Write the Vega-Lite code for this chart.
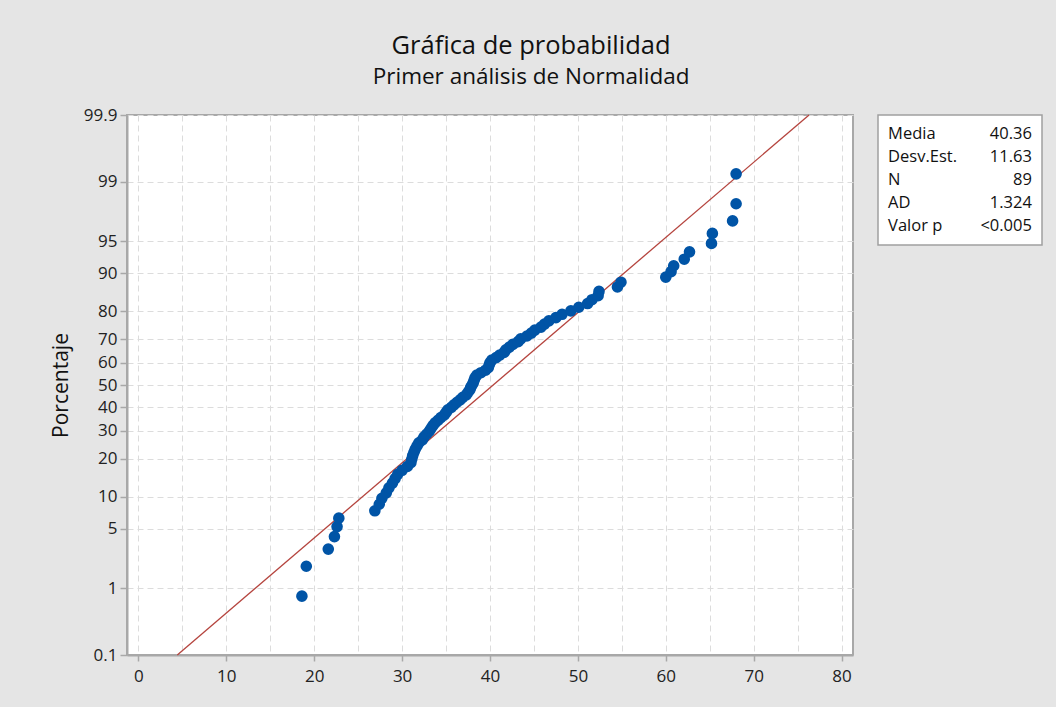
{
  "$schema": "https://vega.github.io/schema/vega-lite/v6.json",
  "background": "#e5e5e5",
  "padding": {"left": 49, "top": 34, "right": 14, "bottom": 25},
  "title": {
    "text": "Gráfica de probabilidad",
    "subtitle": "Primer análisis de Normalidad",
    "anchor": "middle",
    "dx": -15,
    "font": "Open Sans",
    "fontSize": 25.5,
    "fontWeight": 500,
    "color": "#111111",
    "subtitleFont": "Open Sans",
    "subtitleFontSize": 22.5,
    "subtitleFontWeight": "normal",
    "subtitleColor": "#111111",
    "subtitlePadding": 6,
    "offset": 17
  },
  "datasets": {
    "pts": [
      {"x": 18.6, "pct": 0.783}, {"x": 19.1, "pct": 1.902}, {"x": 21.6, "pct": 3.020}, {"x": 22.3, "pct": 4.139},
      {"x": 22.6, "pct": 5.257}, {"x": 22.8, "pct": 6.376}, {"x": 26.9, "pct": 7.494}, {"x": 27.4, "pct": 8.613},
      {"x": 27.7, "pct": 9.732}, {"x": 28.2, "pct": 10.850}, {"x": 28.5, "pct": 11.969}, {"x": 28.9, "pct": 13.087},
      {"x": 29.2, "pct": 14.206}, {"x": 29.5, "pct": 15.324}, {"x": 30.0, "pct": 16.443}, {"x": 30.6, "pct": 17.562},
      {"x": 31.0, "pct": 18.680}, {"x": 31.1, "pct": 19.799}, {"x": 31.2, "pct": 20.917}, {"x": 31.35, "pct": 22.036},
      {"x": 31.5, "pct": 23.154}, {"x": 31.7, "pct": 24.273}, {"x": 31.9, "pct": 25.391}, {"x": 32.3, "pct": 26.510},
      {"x": 32.5, "pct": 27.629}, {"x": 32.8, "pct": 28.747}, {"x": 33.1, "pct": 29.866}, {"x": 33.3, "pct": 30.984},
      {"x": 33.5, "pct": 32.103}, {"x": 33.75, "pct": 33.221}, {"x": 34.1, "pct": 34.340}, {"x": 34.4, "pct": 35.459},
      {"x": 34.8, "pct": 36.577}, {"x": 35.0, "pct": 37.696}, {"x": 35.2, "pct": 38.814}, {"x": 35.6, "pct": 39.933},
      {"x": 35.9, "pct": 41.051}, {"x": 36.25, "pct": 42.170}, {"x": 36.6, "pct": 43.289}, {"x": 36.9, "pct": 44.407},
      {"x": 37.3, "pct": 45.526}, {"x": 37.5, "pct": 46.644}, {"x": 37.7, "pct": 47.763}, {"x": 37.8, "pct": 48.881},
      {"x": 37.96, "pct": 50.000}, {"x": 38.1, "pct": 51.119}, {"x": 38.2, "pct": 52.237}, {"x": 38.3, "pct": 53.356},
      {"x": 38.5, "pct": 54.474}, {"x": 38.97, "pct": 55.593}, {"x": 39.5, "pct": 56.711}, {"x": 39.8, "pct": 57.830},
      {"x": 39.9, "pct": 58.949}, {"x": 40.0, "pct": 60.067}, {"x": 40.2, "pct": 61.186}, {"x": 40.7, "pct": 62.304},
      {"x": 41.1, "pct": 63.423}, {"x": 41.6, "pct": 64.541}, {"x": 41.8, "pct": 65.660}, {"x": 42.2, "pct": 66.779},
      {"x": 42.6, "pct": 67.897}, {"x": 43.2, "pct": 69.016}, {"x": 43.5, "pct": 70.134}, {"x": 44.2, "pct": 71.253},
      {"x": 44.7, "pct": 72.371}, {"x": 45.1, "pct": 73.490}, {"x": 45.8, "pct": 74.609}, {"x": 46.2, "pct": 75.727},
      {"x": 46.7, "pct": 76.846}, {"x": 47.5, "pct": 77.964}, {"x": 48.2, "pct": 79.083}, {"x": 49.2, "pct": 80.201},
      {"x": 50.1, "pct": 81.320}, {"x": 51.1, "pct": 82.438}, {"x": 51.6, "pct": 83.557}, {"x": 52.3, "pct": 84.676},
      {"x": 52.4, "pct": 85.794}, {"x": 54.5, "pct": 86.913}, {"x": 54.9, "pct": 88.031}, {"x": 60.0, "pct": 89.150},
      {"x": 60.6, "pct": 90.268}, {"x": 60.9, "pct": 91.387}, {"x": 62.1, "pct": 92.506}, {"x": 62.7, "pct": 93.624},
      {"x": 65.2, "pct": 94.743}, {"x": 65.3, "pct": 95.861}, {"x": 67.6, "pct": 96.980}, {"x": 68.0, "pct": 98.098},
      {"x": 68.0, "pct": 99.217}
    ],
    "fit": [
      {"x": 4.421, "pct": 0.1},
      {"x": 76.299, "pct": 99.9}
    ],
    "stats": [
      {"label": "Media", "value": "40.36"},
      {"label": "Desv.Est.", "value": "11.63"},
      {"label": "N", "value": "89"},
      {"label": "AD", "value": "1.324"},
      {"label": "Valor p", "value": "<0.005"}
    ]
  },
  "spacing": 23,
  "hconcat": [
    {
      "width": 726,
      "height": 540,
      "view": {"fill": "white", "stroke": "#a8a8a8", "strokeWidth": 2},
      "encoding": {
        "x": {
          "field": "x",
          "type": "quantitative",
          "scale": {"domain": [-1.3, 81.3], "nice": false, "zero": false},
          "axis": {
            "title": null,
            "values": [0, 5, 10, 15, 20, 25, 30, 35, 40, 45, 50, 55, 60, 65, 70, 75, 80],
            "labelExpr": "datum.value % 10 === 0 ? datum.label : ''",
            "tickOpacity": {"condition": {"test": "datum.value % 10 !== 0", "value": 0}, "value": 1},
            "labelPadding": 7,
            "tickSize": 6
          }
        },
        "y": {
          "field": "z",
          "type": "quantitative",
          "scale": {"domain": [-3.0902, 3.0902], "nice": false, "zero": false},
          "axis": {
            "title": "Porcentaje",
            "values": [-3.0902, -2.3263, -1.6449, -1.2816, -0.8416, -0.5244, -0.2533, 0, 0.2533, 0.5244, 0.8416, 1.2816, 1.6449, 2.3263, 3.0902],
            "labelExpr": "format(cumulativeNormal(datum.value) * 100, '.3~r')",
            "tickSize": 7,
            "labelPadding": 3,
            "titlePadding": 12
          }
        }
      },
      "layer": [
        {
          "data": {"name": "fit"},
          "transform": [{"calculate": "quantileNormal(datum.pct / 100)", "as": "z"}],
          "mark": {"type": "line", "color": "#b5443e", "strokeWidth": 1.3}
        },
        {
          "data": {"name": "pts"},
          "transform": [{"calculate": "quantileNormal(datum.pct / 100)", "as": "z"}],
          "mark": {"type": "point", "filled": true, "shape": "circle", "size": 135, "color": "#0054a6", "opacity": 1}
        }
      ]
    },
    {
      "width": 164,
      "height": 130,
      "view": {"fill": "white", "stroke": "#a0a0a0", "strokeWidth": 1.5},
      "data": {"name": "stats"},
      "encoding": {
        "y": {"field": "label", "type": "nominal", "sort": null, "scale": {"type": "point", "padding": 0.857}, "axis": null}
      },
      "layer": [
        {
          "mark": {"type": "text", "align": "left", "baseline": "middle", "font": "Open Sans", "fontSize": 16.5, "color": "#111111"},
          "encoding": {
            "x": {"datum": "label", "type": "nominal", "scale": {"type": "point", "domain": ["label", "value"], "padding": 0.07}, "axis": null},
            "text": {"field": "label"}
          }
        },
        {
          "mark": {"type": "text", "align": "right", "baseline": "middle", "font": "Open Sans", "fontSize": 16.5, "color": "#111111"},
          "encoding": {
            "x": {"datum": "value", "type": "nominal", "scale": {"type": "point", "domain": ["label", "value"], "padding": 0.07}, "axis": null},
            "text": {"field": "value"}
          }
        }
      ]
    }
  ],
  "config": {
    "axis": {
      "grid": true,
      "gridColor": "#dcdcdc",
      "gridDash": [6, 4],
      "gridWidth": 1,
      "domainColor": "#a8a8a8",
      "domainWidth": 2,
      "tickColor": "#a8a8a8",
      "tickWidth": 1.5,
      "labelFont": "Open Sans",
      "labelFontSize": 17,
      "labelColor": "#222222",
      "labelFlush": false,
      "labelOverlap": false,
      "titleFont": "Open Sans",
      "titleFontSize": 21,
      "titleFontWeight": "normal",
      "titleColor": "#111111"
    }
  }
}
